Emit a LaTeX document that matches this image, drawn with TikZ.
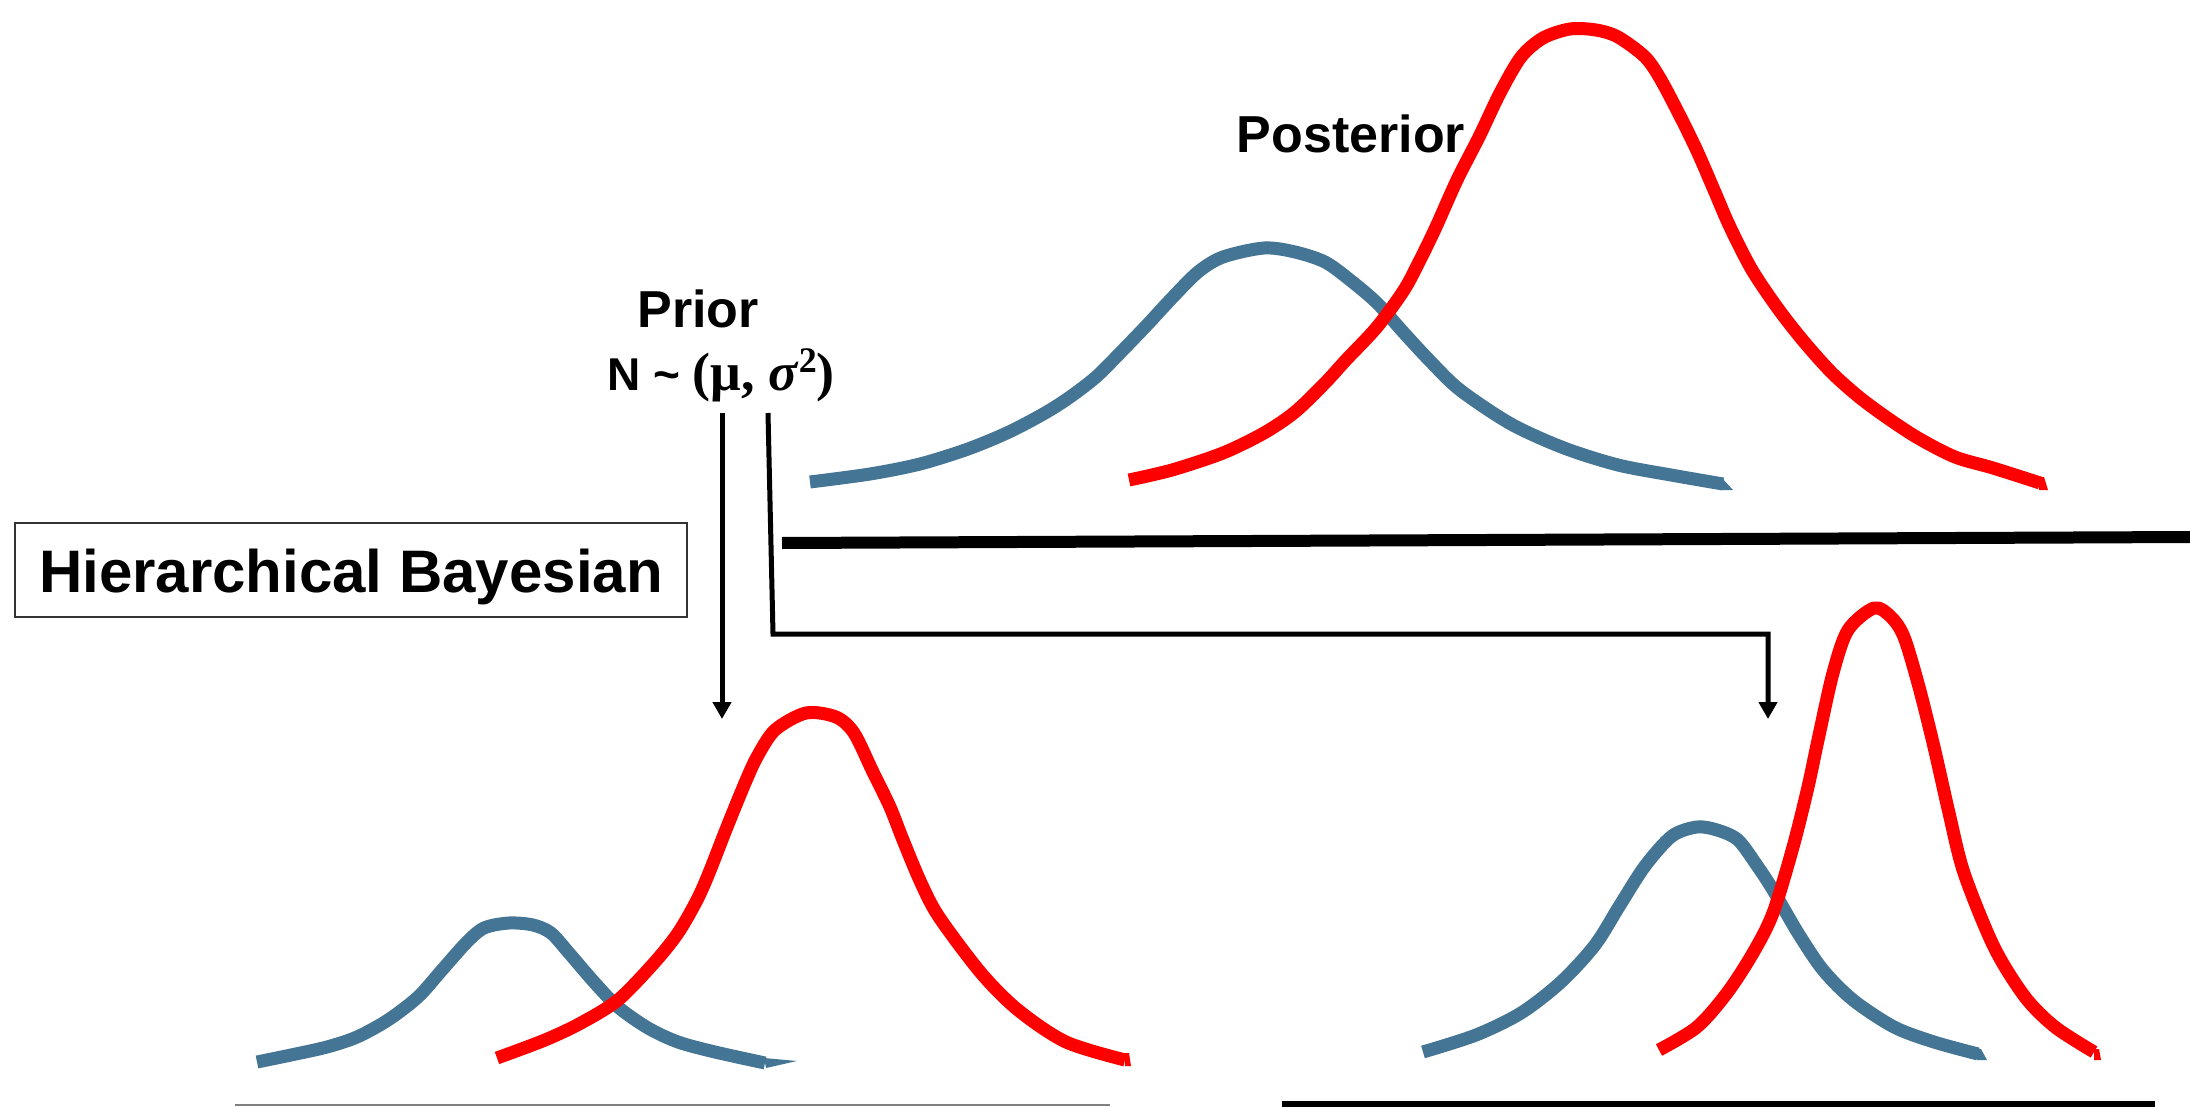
\documentclass[tikz,border=0pt]{standalone}
\usepackage{fontspec}
\setmainfont{Liberation Sans}
\newfontfamily\serifmath{Liberation Serif}
\usetikzlibrary{arrows.meta}
\definecolor{curveblue}{RGB}{69,117,148}
\definecolor{curvered}{RGB}{255,0,0}
\tikzset{
  bluecurve/.style={draw=curveblue, line width=13pt, line join=round},
  redcurve/.style={draw=curvered, line width=13pt, line join=round},
  bluecap/.style={fill=curveblue},
  redcap/.style={fill=curvered},
  axisline/.style={draw=black, line width=12pt},
  conn/.style={draw=black, line width=5pt, line join=miter, -{Triangle[width=18pt,length=17pt]}},
  lbl/.style={font=\fontsize{52}{60}\selectfont\bfseries, inner sep=0pt, anchor=base},
}
\begin{document}
\begin{tikzpicture}[x=1pt,y=-1pt]
\useasboundingbox (0,0) rectangle (2190,1107);

% labels
\node[draw=black!80, line width=1.5pt, minimum width=672pt, minimum height=94pt,
      inner sep=0pt, text height=44pt, text depth=0pt,
      font=\fontsize{60}{70}\selectfont\bfseries] (hb) at (351,570) {Hierarchical Bayesian};
\node[lbl] (prior) at (698,327) {Prior};
\node[lbl] (post) at (1351,153) {Posterior};
\node[anchor=base west, inner sep=0pt, font=\fontsize{46}{52}\selectfont\bfseries] (form) at (607,390)
  {N \textasciitilde\ {\serifmath\fontsize{54}{60}\selectfont (μ, \textit{σ}\raisebox{0.33em}{\fontsize{36}{36}\selectfont 2})}};

% connectors
\coordinate (a1s) at (722,413);
\coordinate (a1e) at (722,719);
\coordinate (a2s) at (768,413);
\coordinate (a2b) at (773,634);
\coordinate (a2c) at (1768,634);
\coordinate (a2e) at (1768,719);
\draw[conn] (a1s) -- (a1e);
\draw[conn] (a2s) -- (a2b) -- (a2c) -- (a2e);

% axis lines
\draw[axisline] (782,543) -- (2190,537);
\draw[black, line width=6pt] (1282,1104) -- (2155,1104);
\draw[black!50, line width=2pt] (235,1105) -- (1110,1105);

% top panel curves
\draw[bluecurve] plot[smooth, tension=0.5] coordinates {
 (810,482) (870,474) (920,464) (968,449) (1009,432) (1045,413) (1070,397) (1096,377)
 (1121,352) (1147,325) (1172,298) (1198,272) (1223,257) (1264,248) (1295,252) (1325,262)
 (1350,280) (1377,303) (1404,333) (1430,361) (1460,390) (1511,424) (1564,448)
 (1618,465) (1671,475) (1723,484)};
\fill[bluecap] (1721,477) -- (1733,490) -- (1721,490) -- cycle;
\draw[redcurve] plot[smooth, tension=0.5] coordinates {
 (1129,480) (1172,470) (1223,453) (1264,433) (1295,412) (1325,383) (1346,360) (1377,327)
 (1404,290) (1420,260) (1436,227) (1457,180) (1479,137) (1500,93) (1521,57) (1543,38)
 (1570,29) (1596,30) (1618,37) (1645,57) (1661,80) (1682,120) (1698,153) (1714,190)
 (1730,227) (1752,270) (1779,310) (1805,343) (1832,373) (1859,397) (1886,417) (1918,438)
 (1955,457) (1993,468) (2040,483)};
\fill[redcap] (2039,477) -- (2044,477) -- (2048,490) -- (2039,490) -- cycle;

% bottom-left curves
\draw[bluecurve] plot[smooth, tension=0.5] coordinates {
 (257,1062) (291,1055) (327,1047) (357,1037) (388,1020) (418,997) (442,970) (466,943)
 (484,928) (509,923) (533,925) (551,933) (569,953) (594,982) (618,1007) (648,1028)
 (678,1042) (715,1052) (765,1063)};
\fill[bluecap] (764,1058) -- (797,1061) -- (766,1068) -- cycle;
\draw[redcurve] plot[smooth, tension=0.5] coordinates {
 (497,1058) (545,1040) (581,1023) (618,1000) (654,963) (678,933) (697,900) (709,873)
 (727,827) (745,783) (757,757) (775,730) (806,713) (836,717) (854,733) (872,770)
 (890,807) (903,840) (921,883) (939,917) (981,973) (1018,1010) (1066,1042) (1125,1060)};
\fill[redcap] (1125,1053) -- (1129,1053) -- (1131,1066) -- (1125,1066) -- cycle;

% bottom-right curves
\draw[bluecurve] plot[smooth, tension=0.5] coordinates {
 (1423,1052) (1476,1035) (1521,1013) (1561,982) (1595,945) (1620,905) (1645,866) (1672,836)
 (1697,827) (1717,830) (1738,840) (1758,867) (1773,890) (1798,933) (1823,970) (1853,1000)
 (1894,1027) (1934,1042) (1978,1054)};
\fill[bluecap] (1977,1049) -- (1981,1049) -- (1987,1060) -- (1977,1060) -- cycle;
\draw[redcurve] plot[smooth, tension=0.5] coordinates {
 (1659,1050) (1697,1027) (1727,993) (1753,953) (1773,913) (1793,847) (1808,787) (1818,740)
 (1833,673) (1848,630) (1874,608) (1891,617) (1904,637) (1919,687) (1934,747) (1949,813)
 (1964,873) (1994,947) (2025,997) (2055,1027) (2094,1052)};
\fill[redcap] (2094,1049) -- (2099,1049) -- (2101,1060) -- (2094,1060) -- cycle;
\end{tikzpicture}
\end{document}
